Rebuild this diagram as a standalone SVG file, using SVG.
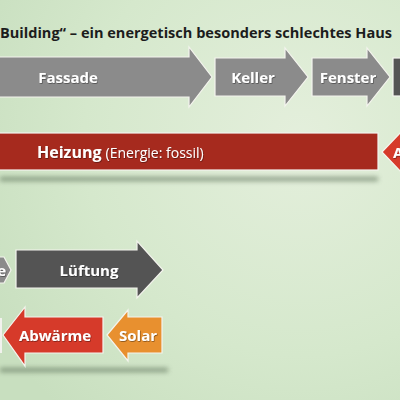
<svg xmlns="http://www.w3.org/2000/svg" width="400" height="400" viewBox="0 0 400 400">
<defs>
<radialGradient id="bg" cx="0.75" cy="0.35" r="0.9">
<stop offset="0" stop-color="#e4efdc"/>
<stop offset="0.6" stop-color="#d5e8cc"/>
<stop offset="1" stop-color="#c8dfbf"/>
</radialGradient>
<filter id="blur" x="-10%" y="-200%" width="120%" height="500%"><feGaussianBlur stdDeviation="2.5"/></filter>
<filter id="ts" x="-10%" y="-30%" width="130%" height="160%"><feDropShadow dx="0.6" dy="0.8" stdDeviation="0.5" flood-color="#000" flood-opacity="0.45"/></filter>
<style>
.ar{stroke:#f4f4ee;stroke-width:1.2;stroke-linejoin:miter}
.gray{fill:#8b8b8b}
.dark{fill:#545454}
.red{fill:#d63a2a}
.bar{fill:#a62a1e}
.orange{fill:#e8902f}
.lbl{font-family:"Open Sans","Liberation Sans",sans-serif;font-weight:700;fill:#ffffff;font-size:15px;text-anchor:middle;filter:url(#ts)}
.title{font-family:"Open Sans","Liberation Sans",sans-serif;font-weight:700;fill:#1c1c1c;font-size:14.5px}
</style>
</defs>
<rect width="400" height="400" fill="url(#bg)"/>
<text class="title" x="0" y="38" textLength="392" lengthAdjust="spacingAndGlyphs">Building“ – ein energetisch besonders schlechtes Haus</text>
<g id="shadows">
<rect x="0" y="177" width="378" height="4" fill="#5f725a" opacity="0.7" filter="url(#blur)"/>
<rect x="0" y="368" width="168" height="4" fill="#5f725a" opacity="0.7" filter="url(#blur)"/>
</g>
<g id="connectors"/>
<g id="fassade">
<polygon class="ar gray" points="-2,57 189,57 189,47 212,77 189,107 189,97 -2,97"/>
<text class="lbl" x="68" y="83">Fassade</text>
</g>
<g id="keller">
<polygon class="ar gray" points="215,58 285,58 285,48 308,77 285,106 285,96 215,96"/>
<text class="lbl" x="253" y="83">Keller</text>
</g>
<g id="fenster">
<polygon class="ar gray" points="312,58 367,58 367,48 390,77 367,106 367,96 312,96"/>
<text class="lbl" x="348" y="83">Fenster</text>
</g>
<g id="dach">
<rect class="ar dark" x="393" y="58" width="10" height="38"/>
</g>
<g id="heizung">
<rect class="ar bar" x="-2" y="133" width="380" height="37"/>
<text class="lbl" x="37" y="158" style="text-anchor:start;font-size:16px">Heizung <tspan style="font-weight:400;font-size:14px">(Energie: fossil)</tspan></text>
</g>
<g id="abwaerme-right">
<polygon class="ar red" points="382,152 405,128 405,176"/>
<text class="lbl" x="393" y="158" style="text-anchor:start">A</text>
</g>
<g id="arrow-e">
<polygon class="ar gray" points="-5,257 4,257 11,270 4,283 -5,283"/>
<text class="lbl" x="6" y="276" style="text-anchor:end">e</text>
</g>
<g id="lueftung">
<polygon class="ar dark" points="16,250 137,250 137,241 163,270 137,298 137,288 16,288"/>
<text class="lbl" x="89" y="276">Lüftung</text>
</g>
<g id="edge-left">
<rect x="-1" y="318" width="3" height="35" fill="#f2f2ee"/>
</g>
<g id="abwaerme">
<polygon class="ar red" points="3,335 25,307 25,317 103,317 103,353 25,353 25,366"/>
<text class="lbl" x="55" y="341">Abwärme</text>
</g>
<g id="solar">
<polygon class="ar orange" points="107,335 128,310 128,317 162,317 162,353 128,353 128,361"/>
<text class="lbl" x="138" y="341">Solar</text>
</g>
</svg>
